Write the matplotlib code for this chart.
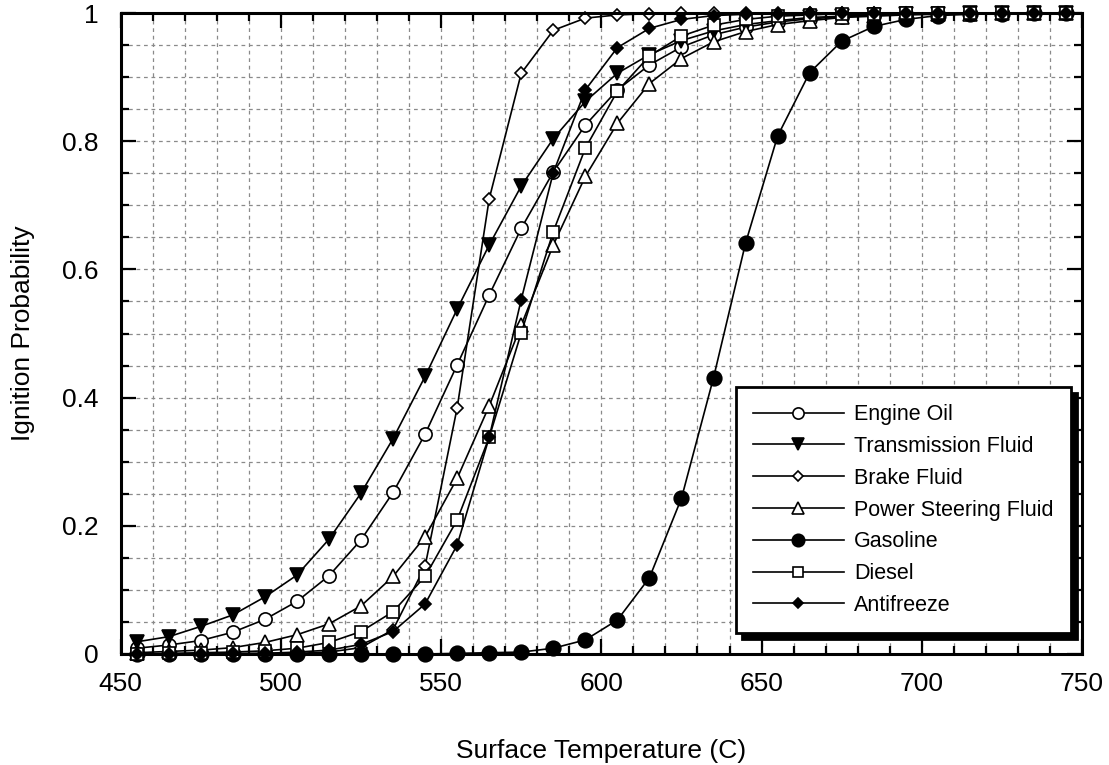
import matplotlib
matplotlib.use("Agg")
import matplotlib.pyplot as plt
from matplotlib.ticker import MultipleLocator, FixedLocator, FixedFormatter

plt.rcParams['font.family'] = ['Liberation Sans', 'DejaVu Sans']

temperature = [455, 465, 475, 485, 495, 505, 515, 525, 535, 545,
               555, 565, 575, 585, 595, 605, 615, 625, 635, 645,
               655, 665, 675, 685, 695, 705, 715, 725, 735, 745]

engine_oil = [0.009, 0.014, 0.021, 0.034, 0.054, 0.082, 0.122, 0.178, 0.252, 0.343,
              0.451, 0.560, 0.664, 0.752, 0.825, 0.880, 0.919, 0.947, 0.966, 0.978,
              0.986, 0.991, 0.994, 0.996, 0.998, 0.999, 0.999, 1.0, 1.0, 1.0]
transmission_fluid = [0.019, 0.027, 0.043, 0.061, 0.089, 0.123, 0.179, 0.251, 0.336, 0.433,
                      0.538, 0.638, 0.730, 0.804, 0.862, 0.906, 0.935, 0.957, 0.972, 0.982,
                      0.988, 0.993, 0.995, 0.997, 0.998, 0.999, 1.0, 1.0, 1.0, 1.0]
brake_fluid = [0.0, 0.0, 0.0, 0.0, 0.001, 0.001, 0.003, 0.010, 0.038, 0.137,
               0.384, 0.710, 0.906, 0.973, 0.992, 0.997, 0.999, 1.0, 1.0, 1.0,
               1.0, 1.0, 1.0, 1.0, 1.0, 1.0, 1.0, 1.0, 1.0, 1.0]
power_steering_fluid = [0.002, 0.004, 0.006, 0.010, 0.018, 0.030, 0.047, 0.075, 0.121, 0.183,
                        0.274, 0.387, 0.513, 0.638, 0.745, 0.828, 0.890, 0.929, 0.955, 0.971,
                        0.982, 0.988, 0.993, 0.995, 0.997, 0.998, 0.999, 1.0, 1.0, 1.0]
gasoline = [0.0, 0.0, 0.0, 0.0, 0.0, 0.0, 0.0, 0.0, 0.0, 0.0,
            0.001, 0.002, 0.003, 0.009, 0.022, 0.053, 0.119, 0.243, 0.431, 0.641,
            0.808, 0.907, 0.956, 0.979, 0.990, 0.996, 0.998, 0.999, 1.0, 1.0]
diesel = [0.0, 0.001, 0.002, 0.003, 0.005, 0.009, 0.018, 0.035, 0.066, 0.121,
          0.209, 0.338, 0.501, 0.659, 0.789, 0.878, 0.933, 0.964, 0.981, 0.990,
          0.995, 0.997, 0.999, 0.999, 1.0, 1.0, 1.0, 1.0, 1.0, 1.0]
antifreeze = [0.0, 0.0, 0.0, 0.001, 0.001, 0.003, 0.006, 0.015, 0.035, 0.078,
              0.170, 0.338, 0.553, 0.751, 0.880, 0.946, 0.976, 0.990, 0.996, 0.998,
              0.999, 1.0, 1.0, 1.0, 1.0, 1.0, 1.0, 1.0, 1.0, 1.0]

series_names = ["Engine Oil", "Transmission Fluid", "Brake Fluid",
                "Power Steering Fluid", "Gasoline", "Diesel", "Antifreeze"]
series_values = [engine_oil, transmission_fluid, brake_fluid,
                 power_steering_fluid, gasoline, diesel, antifreeze]

x_ticks = [450, 500, 550, 600, 650, 700, 750]
y_ticks = [0, 0.2, 0.4, 0.6, 0.8, 1.0]
y_tick_labels = ["0", "0.2", "0.4", "0.6", "0.8", "1"]

styles = [
    dict(marker='o', mfc='white', ms=9.5),
    dict(marker='v', mfc='black', ms=9.5),
    dict(marker='D', mfc='white', ms=6.5),
    dict(marker='^', mfc='white', ms=9.5),
    dict(marker='o', mfc='black', ms=10.5),
    dict(marker='s', mfc='white', ms=8.5),
    dict(marker='D', mfc='black', ms=6.5),
]

fig = plt.figure(figsize=(11.09, 7.65), dpi=100)
ax = fig.add_axes([0.1088, 0.1451, 0.8669, 0.8379])

for name, vals, st in zip(series_names, series_values, styles):
    ax.plot(temperature, vals, color='black', lw=1.2, marker=st['marker'],
            mfc=st['mfc'], mec='black', mew=1.2, ms=st['ms'], label=name,
            clip_on=False, zorder=3)

ax.set_xlim(450, 750)
ax.set_ylim(0, 1)
ax.xaxis.set_major_locator(FixedLocator(x_ticks))
ax.xaxis.set_minor_locator(MultipleLocator(10))
ax.yaxis.set_major_locator(FixedLocator(y_ticks))
ax.yaxis.set_major_formatter(FixedFormatter(y_tick_labels))
ax.yaxis.set_minor_locator(MultipleLocator(0.05))

ax.grid(True, which='both', color='#8a8a8a', linestyle=(0, (3, 3)), linewidth=0.9, zorder=0)
ax.set_axisbelow(True)

ax.tick_params(which='both', direction='in', top=True, right=True, width=1.6, colors='black')
ax.tick_params(which='major', length=11, labelsize=19)
ax.tick_params(which='minor', length=6)
ax.tick_params(axis='y', which='major', pad=16)
ax.tick_params(axis='x', which='major', pad=13)
for sp in ax.spines.values():
    sp.set_linewidth(2.2)
    sp.set_zorder(4)

ax.set_xlabel("Surface Temperature (C)", fontsize=19, labelpad=31)
ax.set_ylabel("Ignition Probability", fontsize=19, labelpad=19)

leg = ax.legend(loc='upper left', bbox_to_anchor=(0.640, 0.4165), fontsize=15.5,
                frameon=True, fancybox=False, edgecolor='black', framealpha=1,
                handlelength=4.2, labelspacing=0.50, borderpad=0.8, handletextpad=0.5,
                borderaxespad=0, markerscale=0.85,
                shadow={'ox': 4, 'oy': -4, 'color': 'black', 'alpha': 1})
leg.get_frame().set_linewidth(2.0)
leg.set_zorder(10)

fig.savefig("out.png", dpi=100)
